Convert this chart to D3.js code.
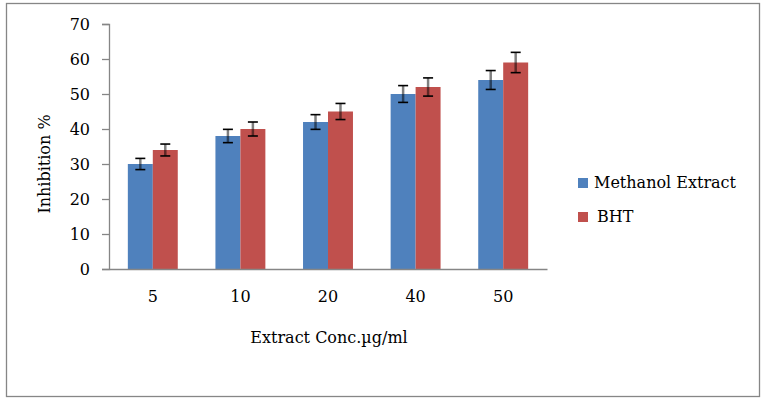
<!DOCTYPE html>
<html>
<head>
<meta charset="utf-8">
<style>
  body { margin: 0; background: #fff; }
  text { font-family: "DejaVu Serif", serif; fill: #000; }
</style>
</head>
<body>
<div class="barplot"></div>

<script src="https://d3js.org/d3.v7.min.js"></script>
<script>
// concentrations (µg/ml) and inhibition % for the two samples
const concs = ["5", "10", "20", "40", "50"];
const seriesNames = ["Methanol Extract", "BHT"];
const methanol = [30, 38, 42, 50, 54];
const bht = [34, 40, 45, 52, 59];
const methanolErr = [1.6, 1.9, 2.1, 2.4, 2.7];
const bhtErr = [1.7, 2.0, 2.3, 2.6, 2.9];
const yTicks = [0, 10, 20, 30, 40, 50, 60, 70];

barChart();
function barChart(){
  const width = 764;
  const height = 404;
  const colors = ["#4F81BD", "#C0504D"];
  const plot = {left: 109, right: 547, top: 24, bottom: 269};

  const rows = concs.map((c, i) => ({
    conc: c,
    vals: [
      {key: seriesNames[0], v: methanol[i], e: methanolErr[i]},
      {key: seriesNames[1], v: bht[i], e: bhtErr[i]}
    ]
  }));

  const x0 = d3.scaleBand().domain(concs)
    .range([plot.left, plot.right]).paddingInner(0.43).paddingOuter(0.215);
  const x1 = d3.scaleBand().domain(seriesNames).range([0, x0.bandwidth()]);
  const y = d3.scaleLinear().domain([0, 70]).range([plot.bottom, plot.top]);
  const color = d3.scaleOrdinal().domain(seriesNames).range(colors);

  const svg = d3.select(".barplot")
    .append("svg")
      .attr("width", width)
      .attr("height", height);

  // outer frame
  svg.append("rect")
    .attr("x", 6.5).attr("y", 3.5)
    .attr("width", 753).attr("height", 393)
    .attr("fill", "none").attr("stroke", "#868686").attr("stroke-width", 1.3);

  // y axis
  const yAxis = svg.append("g")
    .attr("transform", `translate(${plot.left},0)`)
    .call(d3.axisLeft(y).tickValues(yTicks).tickSize(7).tickPadding(12));
  yAxis.select(".domain").attr("stroke", "#868686").attr("stroke-width", 1.3);
  yAxis.selectAll(".tick line").attr("stroke", "#868686").attr("stroke-width", 1.3);
  yAxis.selectAll(".tick text").attr("font-size", 16).attr("font-family", "DejaVu Serif");

  // bars
  const groups = svg.append("g").selectAll("g")
    .data(rows).enter().append("g")
      .attr("transform", d => `translate(${x0(d.conc)},0)`);

  groups.selectAll("rect")
    .data(d => d.vals).enter().append("rect")
      .attr("x", d => x1(d.key))
      .attr("y", d => y(d.v))
      .attr("width", x1.bandwidth())
      .attr("height", d => y(0) - y(d.v))
      .attr("fill", d => color(d.key));

  // error bars
  const err = groups.selectAll("g.err")
    .data(d => d.vals).enter().append("g").attr("class", "err")
      .attr("transform", d => `translate(${x1(d.key) + x1.bandwidth()/2},0)`);
  err.append("line")
    .attr("y1", d => y(d.v + d.e)).attr("y2", d => y(d.v - d.e))
    .attr("stroke", "#000").attr("stroke-opacity", 0.5).attr("stroke-width", 2.5);
  err.selectAll("line.cap")
    .data(d => [d.v + d.e, d.v - d.e]).enter().append("line").attr("class", "cap")
      .attr("x1", -5).attr("x2", 5)
      .attr("y1", d => y(d)).attr("y2", d => y(d))
      .attr("stroke", "#000").attr("stroke-width", 1.6);

  // x axis
  const xAxis = svg.append("g")
    .attr("transform", `translate(0,${plot.bottom})`)
    .call(d3.axisBottom(x0).tickSize(0).tickPadding(22).tickSizeOuter(0));
  xAxis.select(".domain").attr("stroke", "#868686").attr("stroke-width", 1.3);
  xAxis.selectAll(".tick text").attr("font-size", 16).attr("font-family", "DejaVu Serif");

  // axis titles
  svg.append("text")
    .attr("x", 329).attr("y", 343)
    .attr("text-anchor", "middle").attr("font-size", 16)
    .text("Extract Conc.\u00b5g/ml");
  svg.append("text")
    .attr("transform", "translate(50,164) rotate(-90)")
    .attr("text-anchor", "middle").attr("font-size", 16)
    .text("Inhibition %");

  // legend
  const legend = svg.append("g").selectAll("g")
    .data(seriesNames).enter().append("g")
      .attr("transform", (d, i) => `translate(578,${178 + i * 34})`);
  legend.append("rect")
    .attr("width", 10).attr("height", 10)
    .attr("fill", d => color(d));
  legend.append("text")
    .attr("x", (d, i) => i === 0 ? 16 : 19).attr("y", 10)
    .attr("font-size", 16)
    .text(d => d);
}
</script>
</body>
</html>
